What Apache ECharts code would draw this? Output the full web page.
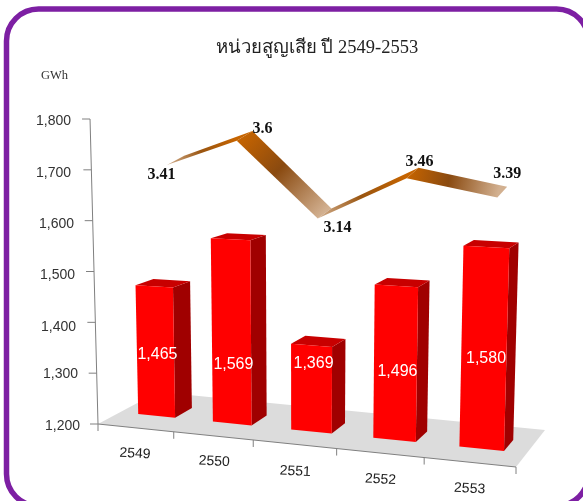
<!DOCTYPE html>
<html><head><meta charset="utf-8">
<style>html,body{margin:0;padding:0;background:#fff}#c{width:583px;height:501px}</style>
<script src="https://cdn.jsdelivr.net/npm/echarts@6/dist/echarts.min.js"></script>
</head><body><div id="c"></div>
<script>
const titleText = 'หน่วยสูญเสีย ปี 2549-2553';
const unitText = 'GWh';
const categories = ['2549','2550','2551','2552','2553'];
const energyValues = [1465,1569,1369,1496,1580];
const lossValues = [3.41,3.6,3.14,3.46,3.39];
const yTicks = [1200,1300,1400,1500,1600,1700,1800];

// ---- view / projection settings (not data) ----
const G = {left:98, top:119, width:418, height:305};
const FLOOR = [[98,424],[516,467],[545,430],[158,392]]; // FL FR BR BL
const VP = [302,8240];
const BAR_D = [0.35,0.65], LINE_D = [0.5,0.8];
const yLabelPad = {1200:[4,0],1300:[2,2],1400:[10,4],1500:[8,5],1600:[6,6],1700:[6,9],1800:[4,9]};
const xLabelTop = [8,16,26,34,43], xLabelRight = [8,16,20,16,4];
const barLabelShift = [3,33,-25,9,11];
const lineNudge = [[6,3],[-1,0],[-1,0],[3,0],[5,0]];
const lineLabelShift = [[-14,14],[18,-7],[13,14],[7,-11],[5,-18]];

const h = (() => {
  const [p0,p1,p2,p3] = FLOOR;
  const dx1=p1[0]-p2[0], dx2=p3[0]-p2[0], sx=p0[0]-p1[0]+p2[0]-p3[0];
  const dy1=p1[1]-p2[1], dy2=p3[1]-p2[1], sy=p0[1]-p1[1]+p2[1]-p3[1];
  const den=dx1*dy2-dx2*dy1, g=(sx*dy2-dx2*sy)/den, k=(dx1*sy-sx*dy1)/den;
  return {a:p1[0]-p0[0]+g*p1[0], b:p3[0]-p0[0]+k*p3[0], c:p0[0],
          d:p1[1]-p0[1]+g*p1[1], e:p3[1]-p0[1]+k*p3[1], f:p0[1], g, k};
})();
const baseY = G.top + G.height;
const uOf = cx => (cx-G.left)/G.width;
function warp(cx, cy, depth, gain){
  const u0=uOf(cx), u=u0-0.07*u0*(1-u0), w=h.g*u+h.k*depth+1;
  const bx=(h.a*u+h.b*depth+h.c)/w, by=(h.d*u+h.e*depth+h.f)/w;
  const hgt=(baseY-cy)*(gain===undefined?1:gain);
  return [bx+(bx-VP[0])/(VP[1]-by)*hgt, by-hgt];
}
const barWarp = (cx,cy,d) => warp(cx,cy,d,(1+0.11*uOf(cx))*(0.951-0.083*(d-0.35)));
const lineWarp = (i,cx,cy,d) => { const p=warp(cx,cy,d,1); return [p[0]+lineNudge[i][0],p[1]+lineNudge[i][1]]; };
const poly = (pts, fill) => ({type:'polygon', shape:{points:pts}, style:{fill}});
const seg = (a,b) => ({type:'line', shape:{x1:a[0],y1:a[1],x2:b[0],y2:b[1]}, style:{stroke:'#808080',lineWidth:1,fill:null}});

function renderFrame(params, api){
  const L=G.left, R=G.left+G.width, B=baseY;
  const ch=[poly([warp(L,B,0),warp(R,B,0),warp(R,B,1),warp(L,B,1)],'#dcdcdc')];
  const yAt=v=>api.coord([0,v])[1];
  ch.push(seg(warp(L,yAt(1200),0),warp(L,yAt(1800),0)));
  yTicks.forEach(v=>{const p=warp(L,yAt(v),0);ch.push(seg(p,[p[0]-8,p[1]]));});
  ch.push(seg(warp(L,B,0),warp(R,B,0)));
  for(let i=0;i<=categories.length;i++){
    const p=warp(L+G.width*i/categories.length,B,0);ch.push(seg(p,[p[0],p[1]+7]));
  }
  return {type:'group',children:ch};
}
function renderBar(params, api){
  const i=params.dataIndex, c=api.coord([i,api.value(1)]);
  const half=api.size([1,0])[0]*0.25, xl=c[0]-half, xr=c[0]+half, t=c[1], B=baseY;
  const [d0,d1]=BAR_D;
  const fbl=barWarp(xl,B,d0),fbr=barWarp(xr,B,d0),ftl=barWarp(xl,t,d0),ftr=barWarp(xr,t,d0);
  const bbr=barWarp(xr,B,d1),btr=barWarp(xr,t,d1),btl=barWarp(xl,t,d1);
  const mx=(fbl[0]+fbr[0]+ftl[0]+ftr[0])/4+2, my=(fbl[1]+fbr[1]+ftl[1]+ftr[1])/4+barLabelShift[i];
  return {type:'group',children:[
    poly([fbr,bbr,btr,ftr],'#a00000'),
    poly([ftl,ftr,btr,btl],'#c80000'),
    poly([fbl,fbr,ftr,ftl],'#ff0000'),
    {type:'text',z2:5,style:{text:api.value(1).toLocaleString('en-US'),x:mx,y:my,fill:'#fff',
      font:'16px "Liberation Sans",Arial,sans-serif',align:'center',verticalAlign:'middle'}}
  ]};
}
function renderLine(params, api){
  const i=params.dataIndex, c=api.coord([i,lossValues[i]]);
  const [d0,d1]=LINE_D, pf=lineWarp(i,c[0],c[1],d0), pb=lineWarp(i,c[0],c[1],d1), ch=[];
  if(i<lossValues.length-1){
    const n=api.coord([i+1,lossValues[i+1]]), nf=lineWarp(i+1,n[0],n[1],d0), nb=lineWarp(i+1,n[0],n[1],d1);
    const fill={type:'linear',global:true,x:pf[0],y:pf[1],x2:nf[0],y2:nf[1],colorStops:
      lossValues[i+1]>lossValues[i]
       ?[{offset:0,color:'#d2b090'},{offset:0.5,color:'#9a5510'},{offset:1,color:'#c66400'}]
       :[{offset:0,color:'#c66400'},{offset:0.45,color:'#8a4a10'},{offset:1,color:'#d2b090'}]};
    ch.push(poly([pf,nf,nb,pb],fill));
  }
  const s=lineLabelShift[i];
  ch.push({type:'text',z2:5,style:{text:String(lossValues[i]),x:(pf[0]+pb[0])/2+s[0],y:(pf[1]+pb[1])/2+s[1],fill:'#111',
    font:'bold 16px "Liberation Serif",serif',align:'center',verticalAlign:'middle'}});
  return {type:'group',children:ch};
}

const xRich={}, yRich={};
categories.forEach((c,i)=>{xRich['x'+i]={padding:[xLabelTop[i],xLabelRight[i],0,0],color:'#222',fontSize:14,fontFamily:'"Liberation Sans",Arial,sans-serif'};});
yTicks.forEach(v=>{yRich['y'+v]={padding:[yLabelPad[v][0],yLabelPad[v][1],0,0],color:'#333',fontSize:14,fontFamily:'"Liberation Sans",Arial,sans-serif'};});

const chart=echarts.init(document.getElementById('c'),null,{renderer:'canvas'});
chart.setOption({
  animation:false,
  backgroundColor:'#fff',
  title:[
    {text:titleText,left:312,top:34,textAlign:'center',textStyle:{fontFamily:'"Liberation Serif","Noto Serif",serif',fontWeight:'normal',fontSize:18.5,color:'#222'}},
    {text:unitText,left:36,top:64,textStyle:{fontFamily:'"Liberation Serif",serif',fontWeight:'normal',fontSize:12.5,color:'#333'}}
  ],
  graphic:[{type:'rect',z:-1,shape:{x:6.5,y:9,width:582,height:497,r:32},style:{fill:'#fff',stroke:'#7d1fa3',lineWidth:5.5}}],
  grid:G,
  xAxis:{type:'category',data:categories,axisLine:{show:false},axisTick:{show:false},
    axisLabel:{margin:15,rotate:-3,align:'center',verticalAlign:'top',interval:0,rich:xRich,
      formatter:(v,i)=>`{x${i}|${v}}`}},
  yAxis:[
    {type:'value',min:1200,max:1800,interval:100,axisLine:{show:false},axisTick:{show:false},splitLine:{show:false},
      axisLabel:{margin:18,rich:yRich,formatter:v=>`{y${v}|${v.toLocaleString('en-US')}}`}},
    {type:'value',min:1.77,max:3.78,show:false,splitLine:{show:false}}
  ],
  series:[
    {type:'custom',silent:true,renderItem:renderFrame,data:[[0,1200]],z:1},
    {type:'custom',name:'energy',renderItem:renderBar,data:energyValues.map((v,i)=>[i,v]),z:2},
    {type:'custom',name:'loss',yAxisIndex:1,renderItem:renderLine,data:lossValues.map((v,i)=>[i,v]),z:3}
  ]
});
</script></body></html>
